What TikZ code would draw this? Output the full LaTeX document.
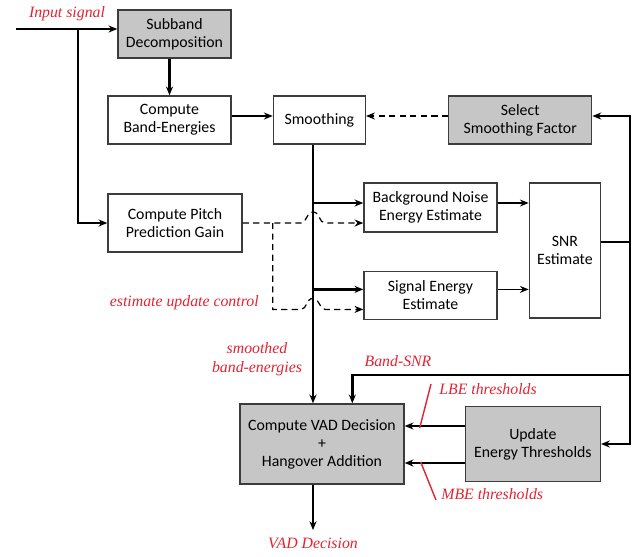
\documentclass[tikz,border=0pt]{standalone}
\usepackage{fontspec}
\setmainfont{Carlito}
\newfontfamily\labelfont{Liberation Serif}
\usetikzlibrary{arrows.meta,positioning,calc}
\definecolor{boxgray}{RGB}{198,198,198}
\definecolor{labelred}{RGB}{226,35,50}
\definecolor{edgegray}{RGB}{60,60,60}

\begin{document}
\begin{tikzpicture}[x=0.02cm, y=-0.02cm, >={Stealth[length=5pt,width=4pt]},
    block/.style={draw=edgegray, line width=0.8pt, fill=white, align=center, inner sep=1pt, font=\fontsize{9}{10.2}\selectfont},
    shaded/.style={block, fill=boxgray},
    sig/.style={line width=0.6pt},
    bold/.style={line width=1.6pt},
    ctrl/.style={line width=0.7pt, dash pattern=on 3.5pt off 2.5pt},
    lbl/.style={text=labelred, font=\labelfont\itshape\fontsize{9}{10.5}\selectfont, inner sep=0pt, align=center},
    tick/.style={draw=labelred, line width=0.8pt}]
    \useasboundingbox (0,0) rectangle (643,556);

    % Nodes {sd, be, sm, sf, pg, bn, se, snr, vad, ut}
    \node [shaded, minimum width=2.26cm, minimum height=0.96cm] (sd) at (174.5,34) {Subband\\Decomposition};
    \node [block, minimum width=2.46cm, minimum height=0.96cm]  (be) at (169.5,120) {Compute\\Band-Energies};
    \node [block, minimum width=1.84cm, minimum height=0.96cm]  (sm) [right=0.82cm of be] {Smoothing};
    \node [shaded, minimum width=2.86cm, minimum height=0.96cm] (sf) [right=1.64cm of sm] {Select\\Smoothing Factor};
    \node [block, minimum width=2.68cm, minimum height=1.16cm]  (pg) at (175,223) {Compute Pitch\\Prediction Gain};
    \node [block, minimum width=2.66cm, minimum height=0.98cm]  (bn) at (430.5,207.5) {Background Noise\\Energy Estimate};
    \node [block, minimum width=2.66cm, minimum height=0.96cm]  (se) [below=0.76cm of bn] {Signal Energy\\Estimate};
    \node [block, minimum width=1.42cm, minimum height=2.7cm]   (snr) [right=0.62cm of bn.north east, anchor=north west] {SNR\\Estimate};
    \node [shaded, minimum width=3.28cm, minimum height=1.6cm]  (vad) at (322,444) {Compute VAD Decision\\+\\Hangover Addition};
    \node [shaded, minimum width=2.7cm, minimum height=1.5cm]   (ut) [right=1.2cm of vad] {Update\\Energy Thresholds};

    % Coordinates
    \coordinate (in)    at (16,29);
    \coordinate (split) at (78,29);
    \coordinate (row)   at (0,116);
    \coordinate (bus)   at (313,0);
    \coordinate (fb)    at (630,242);
    \coordinate (bsrow) at (0,375);
    \coordinate (out)   at (313,530);
    \coordinate (bsin)  at ($(vad.north west)+(113,0)$);
    \coordinate (tap)   at ($(pg.east)+(30,0)$);
    \coordinate (bnA)   at ($(bn.west)+(0,-4.5)$);
    \coordinate (bnB)   at ($(bn.west)+(0,15.5)$);
    \coordinate (seA)   at ($(se.west)+(0,-6)$);
    \coordinate (seB)   at ($(se.west)+(0,14)$);
    \coordinate (lbeA)  at ($(vad.east)+(0,-18)$);
    \coordinate (mbeA)  at ($(vad.east)+(0,19)$);

    % Labels
    \node [lbl]              (inlbl)  at (67,14)   {Input signal};
    \node [lbl, anchor=east] (eulbl)  at (259,303) {estimate update control};
    \node [lbl]              (sblbl)  at (257,359) {smoothed\\band-energies};
    \node [lbl]              (snrlbl) at (398,361) {Band-SNR};
    \node [lbl, anchor=west] (lbelbl) at (439,389) {LBE thresholds};
    \node [lbl, anchor=west] (mbelbl) at (441,494) {MBE thresholds};
    \node [lbl]              (outlbl) at (313,543) {VAD Decision};

    % Paths
    \draw [sig,->]  (in) -- (in -| sd.west);
    \draw [sig,->]  (split) |- (pg.west);
    \draw [bold,->] (be.north |- sd.south) -- (be.north);
    \draw [bold,->] (be.east |- row) -- (sm.west |- row);
    \draw [ctrl,->] (sf.west |- row) -- (sm.east |- row);
    \draw [bold,->] (bus |- sm.south) -- (bus |- vad.north);
    \draw [bold,->] (bus |- bnA) -- (bnA);
    \draw [bold,->] (bus |- seA) -- (seA);
    \draw [sig,->]  (bn.east |- bnA) -- (snr.west |- bnA);
    \draw [sig,->]  (se.east |- seA) -- (snr.west |- seA);
    \draw [bold]    (snr.east |- fb) -- (fb);
    \draw [bold,->] (fb) |- (sf.east |- row);
    \draw [bold,->] (fb) |- (ut.east);
    \draw [bold,->] (fb |- bsrow) -| (bsin);
    \draw [sig,->]  (ut.west |- lbeA) -- (lbeA);
    \draw [sig,->]  (ut.west |- mbeA) -- (mbeA);
    \draw [sig,->]  (bus |- vad.south) -- (out);

    % Control lines hopping over the bus
    \draw [ctrl,->] (pg.east) -- ($(bus |- bnB)+(-12,0)$)
        .. controls +(6,0) and +(-7,0) .. ($(bus |- bnB)+(0,-11)$)
        .. controls +(7,0) and +(-6,0) .. ($(bus |- bnB)+(12,0)$) -- (bnB);
    \draw [ctrl,->] (tap) |- ($(bus |- seB)+(-12,0)$)
        .. controls +(6,0) and +(-7,0) .. ($(bus |- seB)+(0,-11)$)
        .. controls +(7,0) and +(-6,0) .. ($(bus |- seB)+(12,0)$) -- (seB);

    % Label ticks
    \draw [tick] ($(lbeA)+(15,2)$) -- ($(lbelbl.west)+(-8,-5)$);
    \draw [tick] ($(mbeA)+(16,-1)$) -- ($(mbelbl.west)+(-5,6)$);
\end{tikzpicture}
\end{document}
